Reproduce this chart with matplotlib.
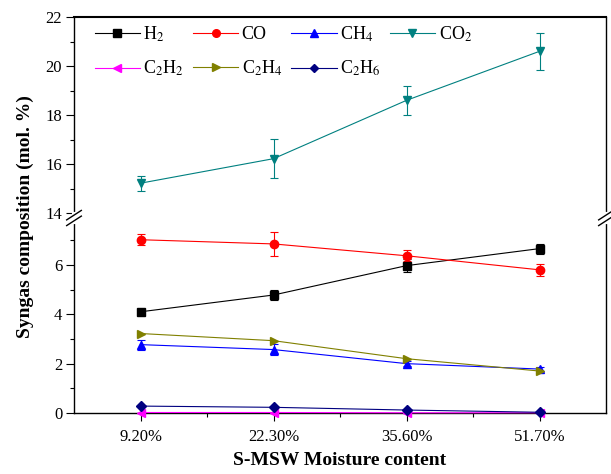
import numpy as np
import matplotlib
matplotlib.use('Agg')
import matplotlib.pyplot as plt
from matplotlib.ticker import MultipleLocator

plt.rcParams['font.family'] = ['Liberation Serif', 'DejaVu Serif']
plt.rcParams['mathtext.fontset'] = 'stix'

moisture = ['9.20%', '22.30%', '35.60%', '51.70%']

h2 = [4.1, 4.78, 5.97, 6.66]
h2_err = [0.12, 0.2, 0.25, 0.2]
co = [7.02, 6.85, 6.37, 5.8]
co_err = [0.22, 0.5, 0.22, 0.25]
ch4 = [2.77, 2.57, 2.0, 1.78]
ch4_err = [0.2, 0.22, 0.1, 0.08]
co2 = [15.22, 16.22, 18.6, 20.6]
co2_err = [0.3, 0.8, 0.6, 0.75]
c2h2 = [0.02, 0.02, 0.01, 0.01]
c2h4 = [3.22, 2.93, 2.2, 1.7]
c2h6 = [0.28, 0.23, 0.12, 0.03]

x = np.arange(1, len(moisture) + 1)

fig = plt.figure(figsize=(6.11, 4.74), dpi=100)
W, H = 611, 474
left, right = 74 / W, 606 / W
ax_top = fig.add_axes([left, 1 - 218 / H, right - left, (218 - 17) / H])
ax_bot = fig.add_axes([left, 1 - 413 / H, right - left, (413 - 218) / H])

# name, values, errors, colour, marker, which axis
series = [
    ('H$_2$', h2, h2_err, 'k', 's', ax_bot),
    ('CO', co, co_err, 'red', 'o', ax_bot),
    ('CH$_4$', ch4, ch4_err, 'blue', '^', ax_bot),
    ('CO$_2$', co2, co2_err, '#008080', 'v', ax_top),
    ('C$_2$H$_2$', c2h2, None, 'magenta', '<', ax_bot),
    ('C$_2$H$_4$', c2h4, None, '#808000', '>', ax_bot),
    ('C$_2$H$_6$', c2h6, None, '#000080', 'D', ax_bot),
]

handles = {}
for name, vals, err, col, mk, ax in series:
    ms = 4.8 if mk == 'D' else 6
    ax.errorbar(x, vals, yerr=err, color=col, marker=mk, ms=ms, lw=0.8,
                elinewidth=0.8, capsize=3, capthick=0.8, clip_on=False, zorder=3)
    h, = ax_top.plot([], [], color=col, marker=mk, ms=ms - 0.5, lw=0.8)
    handles[name] = h

ax_top.set_ylim(13.8, 22)
ax_bot.set_ylim(0, 7.9)
for ax in (ax_top, ax_bot):
    ax.set_xlim(0.5, 4.5)
    ax.tick_params(direction='out', labelsize=12, width=0.8, length=5.5, pad=3)
    ax.tick_params(which='minor', direction='out', width=0.8, length=3)
    ax.yaxis.set_major_locator(MultipleLocator(2))
    ax.yaxis.set_minor_locator(MultipleLocator(1))
    for s in ax.spines.values():
        s.set_linewidth(1.0)

ax_top.spines['bottom'].set_visible(False)
ax_top.spines['top'].set_linewidth(1.5)
ax_bot.spines['top'].set_visible(False)
ax_top.tick_params(axis='x', which='both', bottom=False, labelbottom=False)
ax_top.set_yticks([14, 16, 18, 20, 22])

ax_bot.set_xticks(x)
ax_bot.set_xticklabels(moisture)
ax_bot.set_xticks([1.5, 2.5, 3.5], minor=True)
ax_bot.tick_params(axis='x', pad=6)
ax_bot.set_yticks([0, 2, 4, 6])

ax_bot.set_xlabel('S-MSW Moisture content', fontsize=14, fontweight='bold', labelpad=5)
fig.text(25 / W, 1 - 217 / H, 'Syngas composition (mol. %)', rotation=90,
         fontsize=14, fontweight='bold', ha='center', va='center')

# break marks
yb = 1 - 218 / H
for xb in (left, right):
    fig.add_artist(plt.Line2D([xb, xb], [yb - 0.008, yb + 0.008], color='white', lw=3))
    for dy in (-0.006, 0.006):
        fig.add_artist(plt.Line2D([xb - 0.012, xb + 0.012], [yb + dy - 0.01, yb + dy + 0.01],
                                  color='k', lw=1.0))

# column-major fill so that rows read H2, CO, CH4, CO2 / C2H2, C2H4, C2H6
order = ['H$_2$', 'C$_2$H$_2$', 'CO', 'C$_2$H$_4$', 'CH$_4$', 'C$_2$H$_6$', 'CO$_2$']
ax_top.legend([handles[n] for n in order], order, ncol=4, loc='upper left', frameon=False,
              fontsize=13, handlelength=2.5, columnspacing=0.5, labelspacing=0.85,
              handletextpad=0.2, borderaxespad=0.0, bbox_to_anchor=(0.025, 1.0))

fig.savefig('out.png', dpi=100)
